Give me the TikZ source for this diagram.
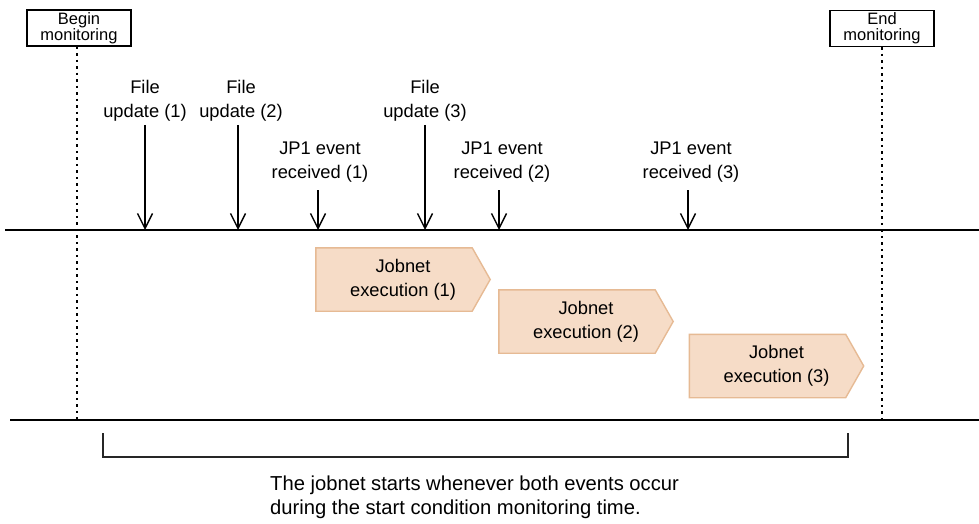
\documentclass[tikz,border=0pt]{standalone}
\usepackage{fontspec}
\setmainfont{Liberation Sans}
\usetikzlibrary{positioning, arrows.meta, backgrounds}
\definecolor{JobFill}{RGB}{246, 220, 199}
\definecolor{JobLine}{RGB}{230, 186, 148}

\begin{document}
\begin{tikzpicture}[x=1pt, y=-1pt,
    every node/.style={font=\fontsize{18.3}{24}\selectfont, align=center, inner sep=0pt},
    monbox/.style={draw, line width=1.5pt, minimum width=104pt, minimum height=36pt, font=\fontsize{16.5}{16}\selectfont},
    evtarrow/.style={line width=1.4pt, -{Straight Barb[length=15pt, width=15pt, line width=1.4pt]}},
    jobbox/.style={minimum width=174pt, minimum height=63pt},
    jobsig/.style={fill=JobFill, draw=JobLine, line width=1.4pt},
    monline/.style={line width=1.6pt, dash pattern=on 2.5pt off 4pt}]
    \useasboundingbox (0,0) rectangle (979,524);

    % Monitoring boxes
    \node[monbox] (begbox) at (79,28) {Begin\\monitoring};
    \node[monbox] (endbox) at (882,28.5) {End\\monitoring};
    \coordinate (begend) at (77,420);
    \coordinate (endend) at (882,420);
    \draw[monline] (begbox.south -| begend) -- (begend);
    \draw[monline] (endbox.south) -- (endend);

    % Time lines
    \coordinate (topl) at (5,230);
    \coordinate (topr) at (979,230);
    \coordinate (botl) at (10,420);
    \coordinate (botr) at (979,420);
    \draw[line width=1.5pt] (topl) -- (topr);
    \draw[line width=1.5pt] (botl) -- (botr);

    % Events
    \node (fu1) at (145,101) {File\\update (1)};
    \node (fu2) at (241,101) {File\\update (2)};
    \node (fu3) at (425,101) {File\\update (3)};
    \node (jp1) at (320,162) {JP1 event\\received (1)};
    \node (jp2) at (502,162) {JP1 event\\received (2)};
    \node (jp3) at (691,162) {JP1 event\\received (3)};
    \coordinate (t1) at (145,230);
    \coordinate (t2) at (238,230);
    \coordinate (t3) at (425,230);
    \coordinate (t4) at (318,230);
    \coordinate (t5) at (499,230);
    \coordinate (t6) at (688,230);
    \draw[evtarrow] (t1 |- 0,125) -- (t1);
    \draw[evtarrow] (t2 |- 0,125) -- (t2);
    \draw[evtarrow] (t3 |- 0,125) -- (t3);
    \draw[evtarrow] (t4 |- 0,190) -- (t4);
    \draw[evtarrow] (t5 |- 0,190) -- (t5);
    \draw[evtarrow] (t6 |- 0,190) -- (t6);

    % Jobnet executions
    \node[jobbox] (job1) at (403,279.5) {Jobnet\\execution (1)};
    \node[jobbox] (job2) at (586,321.5) {Jobnet\\execution (2)};
    \node[jobbox] (job3) at (776.5,366) {Jobnet\\execution (3)};
    \begin{scope}[on background layer]
        \foreach \j in {job1, job2, job3}
            \draw[jobsig] (\j.north west) -- ([xshift=-18pt]\j.north east) -- (\j.east)
                -- ([xshift=-18pt]\j.south east) -- (\j.south west) -- cycle;
    \end{scope}

    % Monitoring time
    \coordinate (brl) at (103,433);
    \coordinate (brr) at (848,433);
    \draw[line width=1.2pt, black!85] (brl) -- ++(0,24) -| (brr);
    \node[anchor=north west, align=left, font=\fontsize{20.2}{24}\selectfont] (note) at (270,476) {The jobnet starts whenever both events occur\\during the start condition monitoring time.};
\end{tikzpicture}
\end{document}
